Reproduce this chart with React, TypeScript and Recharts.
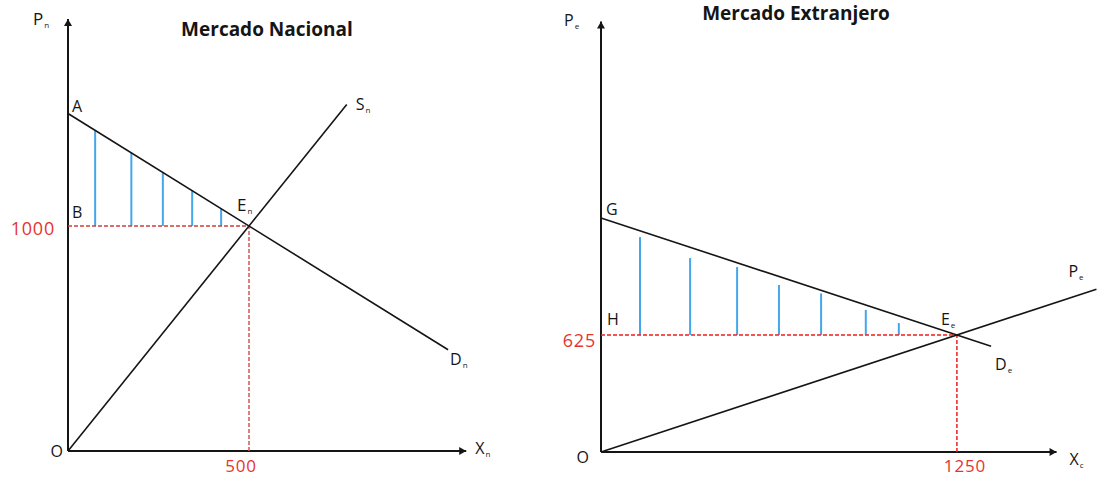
import React from "react";
import { ComposedChart, Line, XAxis, YAxis, ReferenceLine, ReferenceDot } from "recharts";

const FONT = "'Open Sans', 'Noto Sans', sans-serif";
const INK = "#151515";
const RED_TEXT = "#e5342f";
const HATCH = "#44a6ec";

// Mercado Nacional
const natDemandX = [0, 1050];
const natDemandP = [1500, 450];
const natSupplyX = [0, 770];
const natSupplyP = [0, 1540];
const natEq = { x: 500, p: 1000 };
const natHatchX = [75, 175, 262, 343, 423];
const natHatchTop = [1425, 1325, 1238, 1157, 1077];
const natAxisEnd = { x: 1100, p: 1920 };
const natTicks = { x: "500", p: "1000" };

// Mercado Extranjero
const extDemandX = [0, 1370];
const extDemandP = [1250, 565];
const extSupplyX = [0, 1740];
const extSupplyP = [0, 870];
const extEq = { x: 1250, p: 625 };
const extHatchX = [137, 313, 478, 625, 773, 930, 1046];
const extHatchTop = [1148, 1036, 988, 892, 847, 759, 689];
const extAxisEnd = { x: 1600, p: 2300 };
const extTicks = { x: "1250", p: "625" };

const toPoints = (xs: number[], ps: number[]) => xs.map((x, i) => ({ x, p: ps[i] }));

function Tag({ cx, cy, dx, dy, main, sub, color = INK, size = 16, anchor = "start", spacing = 0 }: any) {
  return (
    <text
      x={cx + dx}
      y={cy + dy}
      fill={color}
      fontSize={size}
      fontFamily={FONT}
      textAnchor={anchor}
      letterSpacing={spacing}
    >
      {main}
      {sub ? (
        <tspan fontSize={8} dy={3} dx={1}>
          {sub}
        </tspan>
      ) : null}
    </text>
  );
}

const tag = (key: string, x: number, y: number, dx: number, dy: number, main: string, sub?: string, extra: any = {}) => (
  <ReferenceDot
    key={key}
    x={x}
    y={y}
    r={0}
    ifOverflow="visible"
    shape={(p: any) => <Tag cx={p.cx} cy={p.cy} dx={dx} dy={dy} main={main} sub={sub} {...extra} />}
  />
);

const tickStyle = { color: RED_TEXT, size: 18, spacing: 0.8 };
const bottomTickStyle = { color: RED_TEXT, size: 17, spacing: 0.8 };

const upArrow = (p: any) => (
  <path d={`M${p.cx - 4},${p.cy + 7} L${p.cx},${p.cy} L${p.cx + 4},${p.cy + 7} Z`} fill={INK} />
);
const rightArrow = (p: any) => (
  <path d={`M${p.cx - 7},${p.cy - 4} L${p.cx},${p.cy} L${p.cx - 7},${p.cy + 4} Z`} fill={INK} />
);

function Axes({ end }: any) {
  return (
    <>
      <ReferenceLine segment={[{ x: 0, y: 0 }, { x: 0, y: end.p }]} stroke={INK} strokeWidth={2} ifOverflow="visible" />
      <ReferenceLine segment={[{ x: 0, y: 0 }, { x: end.x, y: 0 }]} stroke={INK} strokeWidth={2} ifOverflow="visible" />
      <ReferenceDot x={0} y={end.p} r={0} ifOverflow="visible" shape={upArrow} />
      <ReferenceDot x={end.x} y={0} r={0} ifOverflow="visible" shape={rightArrow} />
    </>
  );
}

function NationalChart() {
  const demand = toPoints(natDemandX, natDemandP);
  const supply = toPoints(natSupplyX, natSupplyP);
  const dEnd = demand[demand.length - 1];
  const sEnd = supply[supply.length - 1];
  return (
    <ComposedChart width={510} height={478} margin={{ top: 1, left: 68, right: 7.6, bottom: 27 }}>
      <XAxis type="number" dataKey="x" domain={[0, 1200]} hide />
      <YAxis type="number" dataKey="p" domain={[0, 2000]} hide />
      {Axes({ end: natAxisEnd })}
      {natHatchX.map((x, i) => (
        <ReferenceLine key={"h" + i} segment={[{ x, y: natEq.p }, { x, y: natHatchTop[i] }]} stroke={HATCH} strokeWidth={2} />
      ))}
      <ReferenceLine segment={[{ x: 0, y: natEq.p }, { x: natEq.x, y: natEq.p }]} stroke="#c9403f" strokeWidth={1.5} strokeDasharray="4 2" />
      <ReferenceLine segment={[{ x: natEq.x, y: 0 }, { x: natEq.x, y: natEq.p }]} stroke="#d25555" strokeWidth={1.5} strokeDasharray="4 2" />
      <Line data={demand} dataKey="p" stroke={INK} strokeWidth={1.6} dot={false} isAnimationActive={false} />
      <Line data={supply} dataKey="p" stroke={INK} strokeWidth={1.6} dot={false} isAnimationActive={false} />
      {tag("pn", 0, natAxisEnd.p, -35, 6, "P", "n", { size: 17 })}
      {tag("a", 0, natDemandP[0], 4, -2, "A")}
      {tag("b", 0, natEq.p, 4, -8, "B")}
      {tag("en", natEq.x, natEq.p, -12, -15, "E", "n", { size: 17 })}
      {tag("sn", sEnd.x, sEnd.p, 9, 5, "S", "n")}
      {tag("dn", dEnd.x, dEnd.p, 2, 15, "D", "n")}
      {tag("o", 0, 0, -5, 6, "O", undefined, { anchor: "end" })}
      {tag("xn", natAxisEnd.x, 0, 9, 3, "X", "n")}
      {tag("t1000", 0, natEq.p, -13, 9, natTicks.p, undefined, { anchor: "end", ...tickStyle })}
      {tag("t500", natEq.x, 0, -8, 21, natTicks.x, undefined, { anchor: "middle", ...bottomTickStyle })}
    </ComposedChart>
  );
}

function ForeignChart() {
  const demand = toPoints(extDemandX, extDemandP);
  const supply = toPoints(extSupplyX, extSupplyP);
  const dEnd = demand[demand.length - 1];
  const sEnd = supply[supply.length - 1];
  return (
    <ComposedChart width={557} height={478} margin={{ top: 2.72, left: 61, right: 0, bottom: 26 }}>
      <XAxis type="number" dataKey="x" domain={[0, 1742]} hide />
      <YAxis type="number" dataKey="p" domain={[0, 2400]} hide />
      {Axes({ end: extAxisEnd })}
      {extHatchX.map((x, i) => (
        <ReferenceLine key={"h" + i} segment={[{ x, y: extEq.p }, { x, y: extHatchTop[i] }]} stroke={HATCH} strokeWidth={2} />
      ))}
      <ReferenceLine segment={[{ x: 0, y: extEq.p }, { x: extEq.x, y: extEq.p }]} stroke="#f01e1e" strokeWidth={1.5} strokeDasharray="4 2" />
      <ReferenceLine segment={[{ x: extEq.x, y: 0 }, { x: extEq.x, y: extEq.p }]} stroke="#f01e1e" strokeWidth={1.5} strokeDasharray="4 2" />
      <Line data={demand} dataKey="p" stroke={INK} strokeWidth={1.6} dot={false} isAnimationActive={false} />
      <Line data={supply} dataKey="p" stroke={INK} strokeWidth={1.6} dot={false} isAnimationActive={false} />
      {tag("pe", 0, extAxisEnd.p, -37, 5, "P", "e")}
      {tag("g", 0, extDemandP[0], 5, -3, "G")}
      {tag("h", 0, extEq.p, 6, -10, "H")}
      {tag("ee", extEq.x, extEq.p, -16, -10, "E", "e")}
      {tag("de", dEnd.x, dEnd.p, 4, 24, "D", "e")}
      {tag("pl", sEnd.x, sEnd.p, -28, -12, "P", "e")}
      {tag("o", 0, 0, -12, 11, "O", undefined, { anchor: "end" })}
      {tag("xc", extAxisEnd.x, 0, 13, 13, "X", "c")}
      {tag("t625", 0, extEq.p, -5, 12, extTicks.p, undefined, { anchor: "end", ...tickStyle })}
      {tag("t1250", extEq.x, 0, 8, 20, extTicks.x, undefined, { anchor: "middle", ...bottomTickStyle })}
    </ComposedChart>
  );
}

export default function App() {
  const title: React.CSSProperties = {
    position: "absolute",
    width: 260,
    textAlign: "center",
    fontFamily: FONT,
    fontWeight: 700,
    fontSize: 19,
    lineHeight: "19px",
    color: INK,
  };
  return (
    <div style={{ position: "absolute", left: 0, top: 0, width: 1097, height: 478, background: "#fff", overflow: "hidden" }}>
      <div style={{ position: "absolute", left: 0, top: 0 }}>
        <NationalChart />
      </div>
      <div style={{ position: "absolute", left: 540, top: 0 }}>
        <ForeignChart />
      </div>
      <div style={{ ...title, left: 137, top: 20 }}>Mercado Nacional</div>
      <div style={{ ...title, left: 666, top: 4 }}>Mercado Extranjero</div>
    </div>
  );
}
